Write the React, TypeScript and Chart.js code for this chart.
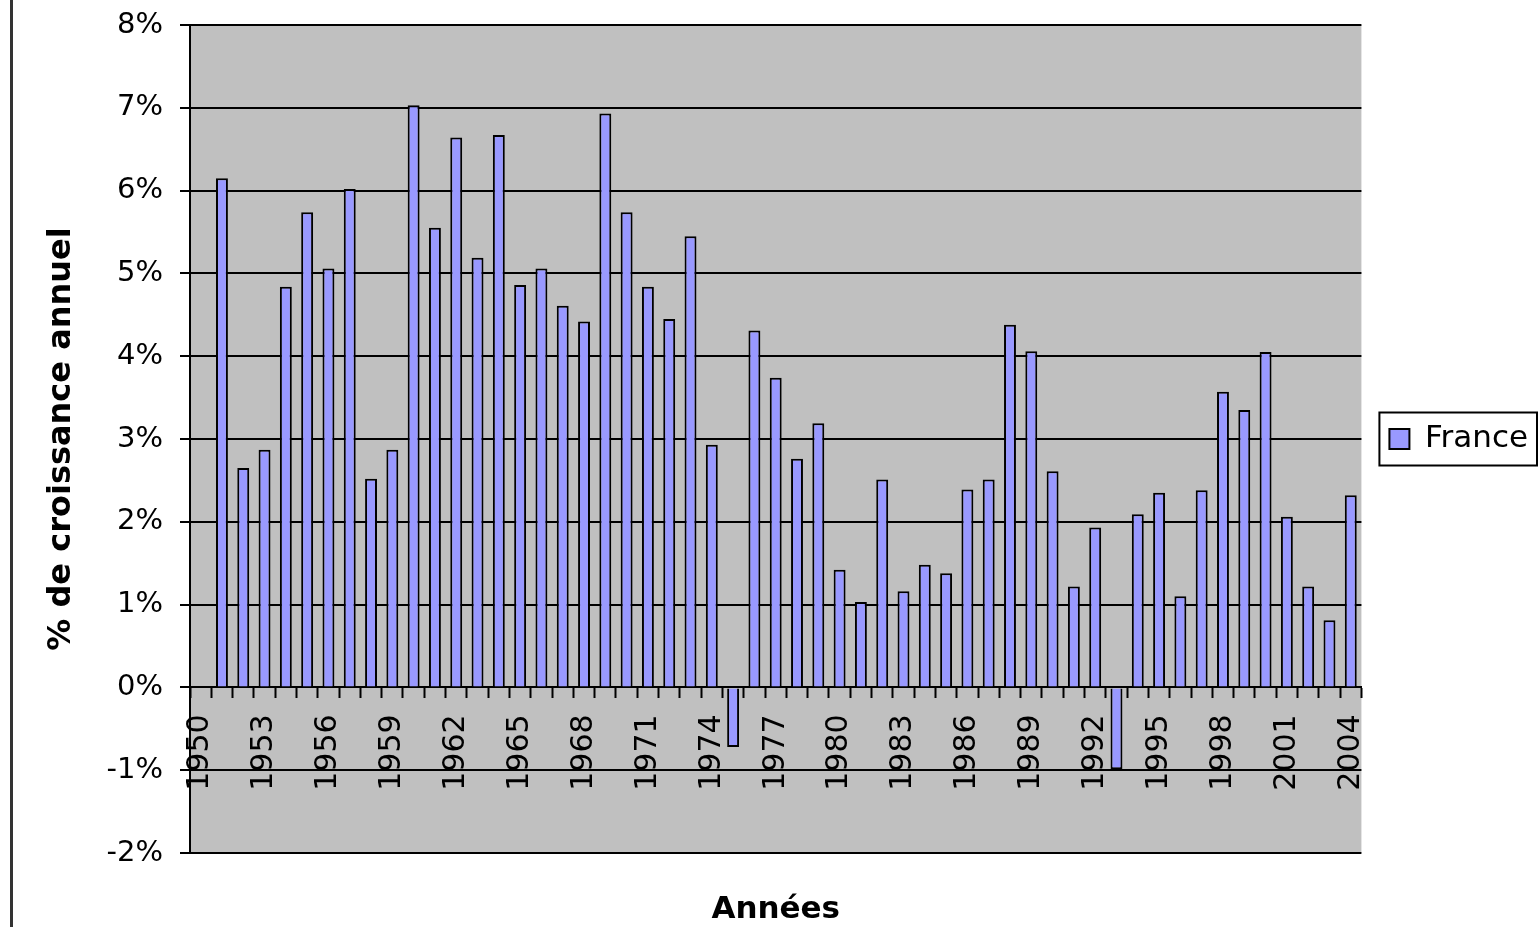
import React, { useEffect, useRef } from 'react';
import { Chart, registerables } from 'chart.js';

Chart.register(...registerables);

const years: string[] = [
  '1950', '1951', '1952', '1953', '1954', '1955', '1956', '1957', '1958', '1959',
  '1960', '1961', '1962', '1963', '1964', '1965', '1966', '1967', '1968', '1969',
  '1970', '1971', '1972', '1973', '1974', '1975', '1976', '1977', '1978', '1979',
  '1980', '1981', '1982', '1983', '1984', '1985', '1986', '1987', '1988', '1989',
  '1990', '1991', '1992', '1993', '1994', '1995', '1996', '1997', '1998', '1999',
  '2000', '2001', '2002', '2003', '2004',
];

const franceGrowth: (number | null)[] = [
  null, 6.15, 2.65, 2.87, 4.84, 5.74, 5.06, 6.02, 2.52, 2.87,
  7.03, 5.55, 6.64, 5.19, 6.67, 4.86, 5.06, 4.61, 4.42, 6.93,
  5.74, 4.84, 4.45, 5.45, 2.93, -0.72, 4.31, 3.74, 2.76, 3.19,
  1.42, 1.03, 2.51, 1.16, 1.48, 1.38, 2.39, 2.51, 4.38, 4.06,
  2.61, 1.22, 1.93, -0.99, 2.09, 2.35, 1.10, 2.38, 3.57, 3.35,
  4.05, 2.06, 1.22, 0.81, 2.32,
];

const seriesName = 'France';
const yTitle = '% de croissance annuel';
const xTitle = 'Années';
const yMin = -2;
const yMax = 8;
const labelEvery = 3;

const FONT = 'DejaVu Sans';

const plotBackground = {
  id: 'plotBackground',
  beforeDraw(chart: any) {
    const { ctx, chartArea } = chart;
    ctx.save();
    ctx.fillStyle = '#C0C0C0';
    ctx.fillRect(chartArea.left, chartArea.top, chartArea.right - chartArea.left, chartArea.bottom - chartArea.top);
    ctx.restore();
  },
};

const legendBorder = {
  id: 'legendBorder',
  afterDraw(chart: any) {
    const legend = chart.legend;
    if (!legend || !legend.legendHitBoxes || !legend.legendHitBoxes.length) return;
    const hb = legend.legendHitBoxes[0];
    const { ctx } = chart;
    ctx.save();
    ctx.strokeStyle = '#000';
    ctx.lineWidth = 2;
    const l = hb.left - 10;
    const t = hb.top - 11;
    const r = hb.left + hb.width + 9;
    const b = hb.top + hb.height + 11;
    ctx.strokeRect(l, t, r - l, b - t);
    ctx.restore();
  },
};

export default function App() {
  const canvasRef = useRef<HTMLCanvasElement | null>(null);

  useEffect(() => {
    const canvas = canvasRef.current;
    if (!canvas) return;
    const chart = new Chart(canvas, {
      type: 'bar',
      data: {
        labels: years,
        datasets: [
          {
            label: seriesName,
            data: franceGrowth,
            backgroundColor: '#9999FF',
            borderColor: '#000000',
            borderWidth: 2,
            barPercentage: 0.56,
            categoryPercentage: 1,
          },
        ],
      },
      options: {
        responsive: false,
        animation: false,
        layout: { padding: { left: 38, top: 25, right: 1, bottom: 0 } },
        scales: {
          x: {
            position: { y: 0 } as any,
            offset: true,
            grid: {
              display: true,
              offset: true,
              drawOnChartArea: false,
              drawTicks: true,
              tickLength: 10,
              tickColor: '#000',
              tickWidth: 2,
              color: '#000',
            },
            border: { display: true, color: '#000', width: 2 },
            ticks: {
              autoSkip: false,
              minRotation: 90,
              maxRotation: 90,
              padding: 17,
              color: '#000',
              font: { family: FONT, size: 30 },
              callback: (_v: any, i: number) => (i % labelEvery === 0 ? years[i] : ''),
            },
          },
          y: {
            min: yMin,
            max: yMax,
            afterFit: (s: any) => {
              s.width = 152;
              s.paddingTop = 10;
              s.paddingBottom = 10;
            },
            grid: {
              color: '#000',
              lineWidth: 2,
              drawTicks: true,
              tickLength: 10,
              tickColor: '#000',
            },
            border: { display: true, color: '#000', width: 2 },
            ticks: {
              stepSize: 1,
              padding: 17,
              color: '#000',
              font: { family: FONT, size: 29 },
              callback: (v: any) => `${v}%`,
            },
            title: {
              display: true,
              text: yTitle,
              color: '#000',
              font: { family: FONT, size: 32, weight: 'bold' },
              padding: { top: 4, bottom: 0 },
            },
          },
        },
        plugins: {
          legend: {
            display: true,
            position: 'right',
            align: 'center',
            fullSize: false,
            labels: {
              color: '#000',
              font: { family: FONT, size: 31 },
              boxWidth: 20,
              boxHeight: 20,
              padding: 28,
            },
          },
          title: {
            display: true,
            text: xTitle,
            position: 'bottom',
            fullSize: false,
            color: '#000',
            font: { family: FONT, size: 31, weight: 'bold', lineHeight: 1 },
            padding: { top: 41, bottom: 2 },
          },
          tooltip: { enabled: false },
        },
      },
      plugins: [plotBackground, legendBorder],
    });
    return () => chart.destroy();
  }, []);

  return (
    <div style={{ position: 'absolute', left: 0, top: 0, width: 1539, height: 927, background: '#fff', overflow: 'hidden' }}>
      <div style={{ position: 'absolute', left: 10, top: 0, width: 3, height: 927, background: '#333' }} />
      <canvas ref={canvasRef} width={1539} height={927} style={{ position: 'absolute', left: 0, top: 0, width: 1539, height: 927 }} />
    </div>
  );
}
